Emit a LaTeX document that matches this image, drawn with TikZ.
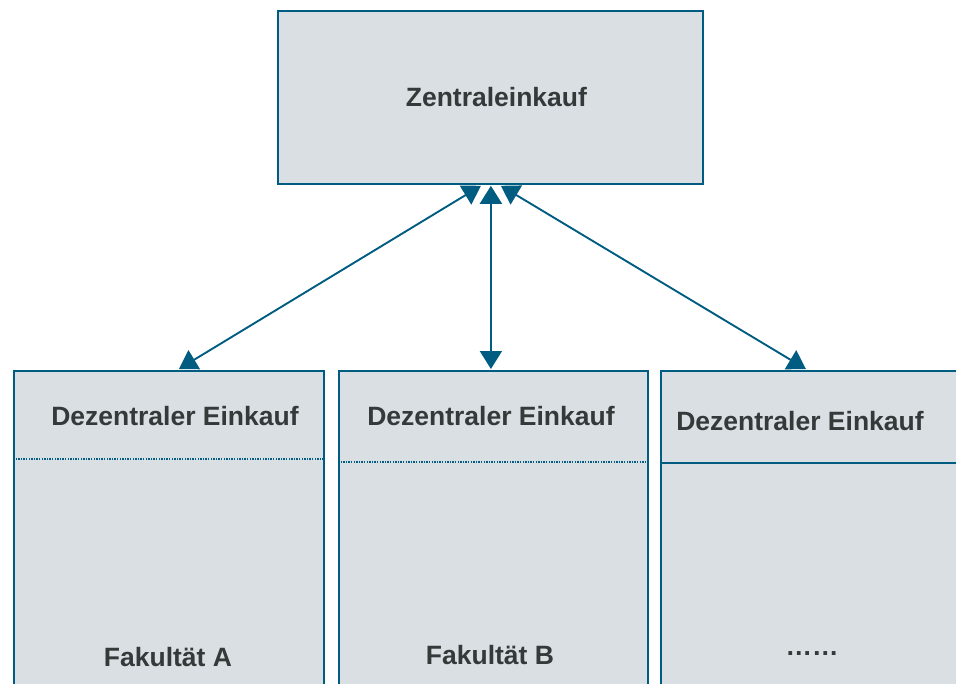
\documentclass[tikz,border=0pt]{standalone}
\usepackage{fontspec}
\setmainfont{Liberation Sans}
\usetikzlibrary{arrows.meta}
\usetikzlibrary{positioning}
\definecolor{boxfill}{RGB}{218,223,227}
\definecolor{boxline}{RGB}{0,92,128}
\definecolor{textgray}{RGB}{52,58,58}

\begin{document}
\begin{tikzpicture}[x=1pt,y=-1pt,
    unitbox/.style={rectangle,draw=boxline,fill=boxfill,line width=1.8pt,inner sep=0pt,anchor=north west},
    boxtext/.style={font=\bfseries\fontsize{26.5}{31}\selectfont,text=textgray},
    sepline/.style={draw=boxline,line width=1.3pt},
    link/.style={draw=boxline,line width=1.9pt,{Triangle[width=22pt,length=18pt]}-{Triangle[width=22pt,length=18pt]}}]
      \clip (0,0) rectangle (956,683);
      \node[unitbox,minimum width=425pt,minimum height=173pt] (zentral) at (277,10) {} ;
      \node[boxtext] (zentralText) at ([xshift=6pt]zentral.center) {Zentraleinkauf} ;
      \node[unitbox,minimum width=310pt,minimum height=330pt] (fakA) at (13,370) {} ;
      \node[unitbox,minimum width=309pt,minimum height=330pt] (fakB) at (338,370) {} ;
      \node[unitbox,minimum width=300pt,minimum height=330pt] (fakC) at (660,370) {} ;
      % upper part of each faculty box
      \node[boxtext] (dezA) at (175,416) {Dezentraler Einkauf} ;
      \node[boxtext] (dezB) at (491,416) {Dezentraler Einkauf} ;
      \node[boxtext] (dezC) at (800,421) {Dezentraler Einkauf} ;
      \draw[sepline,dash pattern=on 1.3pt off 1.3pt] (fakA.west |- 0,459) -- (fakA.east |- 0,459) ;
      \draw[sepline,dash pattern=on 1.3pt off 1.3pt] (fakB.west |- 0,462) -- (fakB.east |- 0,462) ;
      \draw[sepline,line width=1.6pt] (fakC.west |- 0,463) -- (fakC.east |- 0,463) ;
      % faculty names
      \node[boxtext] (nameA) at (168,657) {Fakultät A} ;
      \node[boxtext] (nameB) at (490,655) {Fakultät B} ;
      \node[boxtext] (nameC) at (812,654) {……} ;
      % connectors
      \draw[link] ([xshift=-9.5pt,yshift=-1pt]zentral.south) -- ([xshift=10pt,yshift=1pt]fakA.north) ;
      \draw[link] ([xshift=0.5pt,yshift=-1pt]zentral.south) -- ([xshift=-2.5pt,yshift=1pt]fakB.north) ;
      \draw[link] ([xshift=10.5pt,yshift=-1pt]zentral.south) -- ([xshift=-5pt,yshift=1pt]fakC.north) ;
\end{tikzpicture}
\end{document}
